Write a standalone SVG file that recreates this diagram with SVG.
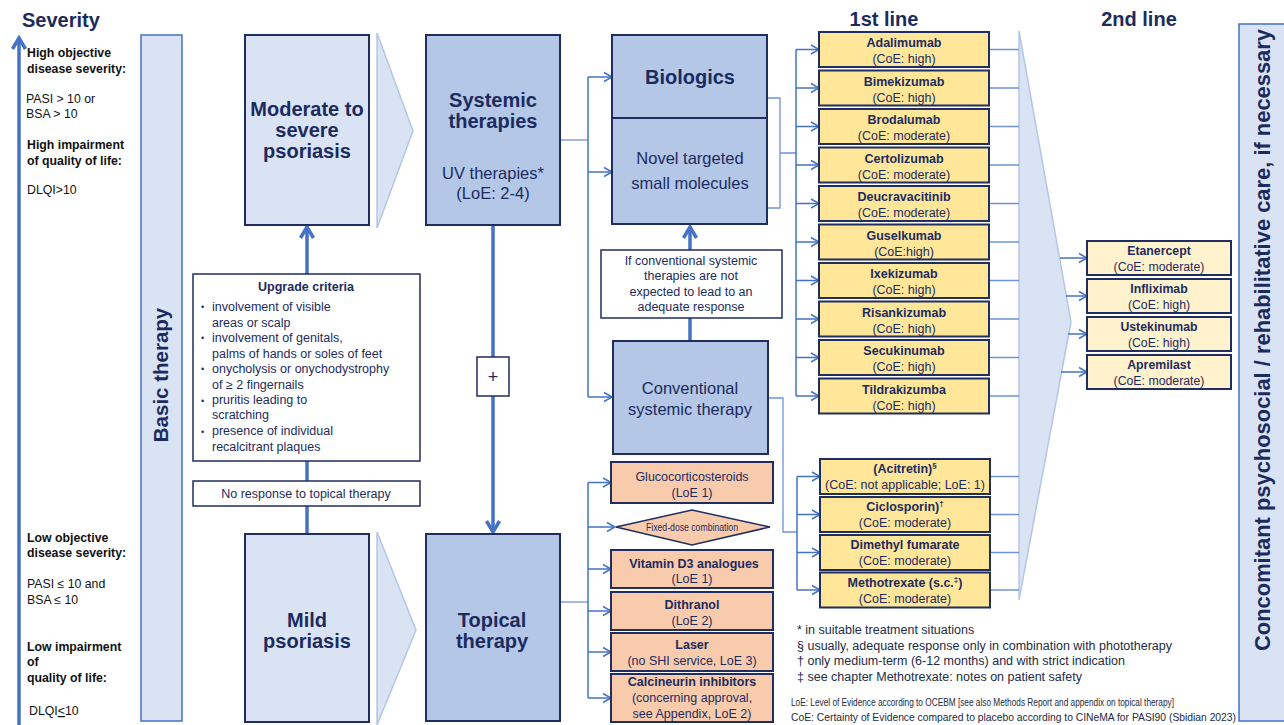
<svg xmlns="http://www.w3.org/2000/svg" width="1284" height="725" viewBox="0 0 1284 725">
<style>
text{font-family:"Liberation Sans",Arial,sans-serif;fill:#1C2B5E}
.b{font-weight:bold}
.left{fill:#111;font-size:12.3px}
.col{fill:#DAE3F3;stroke:#4472C4;stroke-width:1.5}
.lt{fill:#DAE3F3;stroke:#1F2D5F;stroke-width:2}
.md{fill:#B4C7E7;stroke:#1F2D5F;stroke-width:2}
.wh{fill:#fff;stroke:#1F2D5F;stroke-width:1.5}
.y1{fill:#FFE699;stroke:#1F2D5F;stroke-width:2}
.y2{fill:#FFF2CC;stroke:#1F2D5F;stroke-width:2}
.or{fill:#F8CBAD;stroke:#1F2D5F;stroke-width:2}
.chev{fill:#DAE3F3;stroke:#B4C7E7;stroke-width:1.5}
.ln{fill:none;stroke:#4472C4;stroke-width:1.5}
.lnl{fill:none;stroke:#6F93D6;stroke-width:1.3}
.thick{fill:none;stroke:#4472C4;stroke-width:3.5}
.t13{font-size:12.5px}
.big{font-size:20px;font-weight:bold}
.reg{font-size:16.5px}
.fn{font-size:12.5px;fill:#222A44}
</style>
<defs>
<marker id="arr" markerUnits="userSpaceOnUse" markerWidth="12" markerHeight="12" refX="10" refY="6" orient="auto">
<path d="M2,1.5 L10,6 L2,10.5" fill="none" stroke="#4472C4" stroke-width="1.5"/>
</marker>
<marker id="arrT" markerUnits="userSpaceOnUse" markerWidth="16" markerHeight="16" refX="13" refY="8" orient="auto">
<path d="M2,1.5 L13,8 L2,14.5" fill="none" stroke="#4472C4" stroke-width="3.5"/>
</marker>
</defs>

<!-- Severity axis -->
<g id="severity">
<text x="22" y="27" class="big" style="font-size:20px">Severity</text>
<line x1="19" y1="725" x2="19" y2="38" class="thick" marker-end="url(#arrT)"/>
<text class="left b" x="27" y="57">High objective</text>
<text class="left b" x="27" y="73">disease severity:</text>
<text class="left" x="26" y="103">PASI &gt; 10 or</text>
<text class="left" x="26" y="118">BSA &gt; 10</text>
<text class="left b" x="27" y="149">High impairment</text>
<text class="left b" x="27" y="165">of quality of life:</text>
<text class="left" x="27" y="194">DLQI&gt;10</text>
<text class="left b" x="27" y="542">Low objective</text>
<text class="left b" x="27" y="557">disease severity:</text>
<text class="left" x="27" y="588">PASI ≤ 10 and</text>
<text class="left" x="27" y="604">BSA ≤ 10</text>
<text class="left b" x="27" y="651">Low impairment</text>
<text class="left b" x="27" y="666">of</text>
<text class="left b" x="27" y="682">quality of life:</text>
<text class="left" x="29" y="715">DLQI<tspan text-decoration="underline">&lt;</tspan>10</text>
</g>

<g id="basic-therapy">
<rect x="141" y="35" width="41" height="686" class="col"/>
<text transform="translate(168,375) rotate(-90)" text-anchor="middle" class="big" style="font-size:20.5px">Basic therapy</text>
</g>

<g id="concomitant">
<rect x="1239" y="24" width="50" height="697" class="col"/>
<text transform="translate(1270,340) rotate(-90)" text-anchor="middle" class="big" textLength="622" lengthAdjust="spacingAndGlyphs" style="font-size:21.5px">Concomitant psychosocial / rehabilitative care, if necessary</text>
</g>

<!-- chevrons -->
<g id="chevrons">
<polygon points="377,33 413,131 377,228" class="chev"/>
<polygon points="377,532 416,630 377,725" class="chev"/>
<polygon points="1019,31 1071,322 1019,600" class="chev"/>
</g>

<!-- connectors -->
<g id="connectors">
<line x1="307" y1="534" x2="307" y2="227" class="thick" marker-end="url(#arrT)"/>
<line x1="493" y1="225" x2="493" y2="532" class="thick" marker-end="url(#arrT)"/>
<line x1="690" y1="341" x2="690" y2="227" class="thick" marker-end="url(#arrT)"/>

<path d="M560,140 H588" class="lnl"/>
<path d="M588,77 V397" class="ln"/>
<line x1="588" y1="77" x2="612" y2="77" class="ln" marker-end="url(#arr)"/>
<line x1="588" y1="172" x2="612" y2="172" class="ln" marker-end="url(#arr)"/>
<line x1="588" y1="397" x2="612" y2="397" class="ln" marker-end="url(#arr)"/>

<path d="M767,98 H780 V208 H767 M780,153 H796" class="lnl"/>
<path d="M796,49.5 V396" class="ln"/>
<line x1="796" y1="49.5" x2="819" y2="49.5" class="ln" marker-end="url(#arr)"/>
<line x1="796" y1="88" x2="819" y2="88" class="ln" marker-end="url(#arr)"/>
<line x1="796" y1="126.5" x2="819" y2="126.5" class="ln" marker-end="url(#arr)"/>
<line x1="796" y1="165" x2="819" y2="165" class="ln" marker-end="url(#arr)"/>
<line x1="796" y1="203.5" x2="819" y2="203.5" class="ln" marker-end="url(#arr)"/>
<line x1="796" y1="242" x2="819" y2="242" class="ln" marker-end="url(#arr)"/>
<line x1="796" y1="280.5" x2="819" y2="280.5" class="ln" marker-end="url(#arr)"/>
<line x1="796" y1="319" x2="819" y2="319" class="ln" marker-end="url(#arr)"/>
<line x1="796" y1="357.5" x2="819" y2="357.5" class="ln" marker-end="url(#arr)"/>
<line x1="796" y1="396" x2="819" y2="396" class="ln" marker-end="url(#arr)"/>

<path d="M989,49.5 H1019 M989,88 H1019 M989,126.5 H1019 M989,165 H1019 M989,203.5 H1019 M989,242 H1019 M989,280.5 H1019 M989,319 H1019 M989,357.5 H1019 M989,396 H1019" class="lnl"/>
<path d="M990,476.5 H1019 M990,514.5 H1019 M990,552.5 H1019 M990,590 H1019" class="lnl"/>

<path d="M768,398 H783 V532 H797" class="lnl"/>
<path d="M797,476.5 V590" class="ln"/>
<line x1="797" y1="476.5" x2="820" y2="476.5" class="ln" marker-end="url(#arr)"/>
<line x1="797" y1="514.5" x2="820" y2="514.5" class="ln" marker-end="url(#arr)"/>
<line x1="797" y1="552.5" x2="820" y2="552.5" class="ln" marker-end="url(#arr)"/>
<line x1="797" y1="590" x2="820" y2="590" class="ln" marker-end="url(#arr)"/>

<line x1="1060" y1="258" x2="1087" y2="258" class="ln" marker-end="url(#arr)"/>
<line x1="1066" y1="296" x2="1087" y2="296" class="ln" marker-end="url(#arr)"/>
<line x1="1068" y1="334" x2="1087" y2="334" class="ln" marker-end="url(#arr)"/>
<line x1="1061" y1="372" x2="1087" y2="372" class="ln" marker-end="url(#arr)"/>

<path d="M560,602 H588" class="lnl"/>
<path d="M588,482.5 V698" class="ln"/>
<line x1="588" y1="482.5" x2="611" y2="482.5" class="ln" marker-end="url(#arr)"/>
<line x1="588" y1="527" x2="615" y2="527" class="ln" marker-end="url(#arr)"/>
<line x1="588" y1="569" x2="611" y2="569" class="ln" marker-end="url(#arr)"/>
<line x1="588" y1="611" x2="611" y2="611" class="ln" marker-end="url(#arr)"/>
<line x1="588" y1="652" x2="611" y2="652" class="ln" marker-end="url(#arr)"/>
<line x1="588" y1="698" x2="611" y2="698" class="ln" marker-end="url(#arr)"/>
</g>

<!-- main nodes -->
<g id="moderate-severe">
<rect x="245" y="35" width="124" height="190" class="lt"/>
<text x="307" text-anchor="middle" class="big"><tspan x="307" y="116">Moderate to</tspan><tspan x="307" y="137">severe</tspan><tspan x="307" y="158">psoriasis</tspan></text>
</g>
<g id="mild">
<rect x="245" y="534" width="124" height="188" class="lt"/>
<text text-anchor="middle" class="big"><tspan x="307" y="627">Mild</tspan><tspan x="307" y="648">psoriasis</tspan></text>
</g>
<g id="systemic">
<rect x="426" y="35" width="134" height="190" class="md"/>
<text text-anchor="middle" class="big"><tspan x="493" y="107">Systemic</tspan><tspan x="493" y="128">therapies</tspan></text>
<text text-anchor="middle" class="reg"><tspan x="493" y="179">UV therapies*</tspan><tspan x="493" y="199">(LoE: 2-4)</tspan></text>
</g>
<g id="topical">
<rect x="426" y="534" width="134" height="187" class="md"/>
<text text-anchor="middle" class="big"><tspan x="492" y="627">Topical</tspan><tspan x="492" y="648">therapy</tspan></text>
</g>
<g id="upgrade-criteria">
<rect x="193" y="274" width="227" height="187" class="wh"/>
<text x="306" y="291" text-anchor="middle" class="b t13">Upgrade criteria</text>
<g class="t13">
<text x="201" y="310" style="font-size:9px">•</text>
<text x="201" y="341" style="font-size:9px">•</text>
<text x="201" y="372" style="font-size:9px">•</text>
<text x="201" y="404" style="font-size:9px">•</text>
<text x="201" y="435" style="font-size:9px">•</text>
<text x="212" y="311">involvement of visible</text>
<text x="212" y="327">areas or scalp</text>
<text x="212" y="342">involvement of genitals,</text>
<text x="212" y="358">palms of hands or soles of feet</text>
<text x="212" y="373">onycholysis or onychodystrophy</text>
<text x="212" y="389">of ≥ 2 fingernails</text>
<text x="212" y="404">pruritis leading to</text>
<text x="212" y="419">scratching</text>
<text x="212" y="435">presence of individual</text>
<text x="212" y="451">recalcitrant plaques</text>
</g>
</g>
<g id="no-response">
<rect x="193" y="481" width="227" height="25" class="wh"/>
<text x="306" y="498" text-anchor="middle" class="t13">No response to topical therapy</text>
</g>
<g id="plus">
<rect x="477" y="357" width="32" height="39" class="wh"/>
<text x="493" y="383" text-anchor="middle" style="font-size:18px">+</text>
</g>
<g id="biologics">
<rect x="612" y="35" width="155" height="83" class="md"/>
<text x="690" y="84" text-anchor="middle" class="big">Biologics</text>
</g>
<g id="novel-targeted">
<rect x="612" y="118" width="155" height="106" class="md"/>
<text text-anchor="middle" class="reg"><tspan x="690" y="164">Novel targeted</tspan><tspan x="690" y="189">small molecules</tspan></text>
</g>
<g id="if-conventional">
<rect x="601" y="250" width="181" height="68" class="wh"/>
<text text-anchor="middle" class="t13"><tspan x="691" y="265">If conventional systemic</tspan><tspan x="691" y="280">therapies are not</tspan><tspan x="691" y="296">expected to lead to an</tspan><tspan x="691" y="311">adequate response</tspan></text>
</g>
<g id="conventional">
<rect x="613" y="341" width="155" height="113" class="md"/>
<text text-anchor="middle" class="reg"><tspan x="690" y="394">Conventional</tspan><tspan x="690" y="415">systemic therapy</tspan></text>
</g>

<!-- topical options -->
<g id="glucocorticosteroids">
<rect x="611" y="462" width="162" height="41" class="or"/>
<text text-anchor="middle" class="t13"><tspan x="692" y="481">Glucocorticosteroids</tspan><tspan x="692" y="497">(LoE 1)</tspan></text>
</g>
<g id="fixed-dose">
<polygon points="616,527 692,510 770,527 692,545" class="or" style="stroke-width:1.5"/>
<text x="692" y="531" text-anchor="middle" style="font-size:10px" textLength="92" lengthAdjust="spacingAndGlyphs">Fixed-dose combination</text>
</g>
<g id="vitamin-d3">
<rect x="611" y="550" width="162" height="38" class="or"/>
<text text-anchor="middle" class="t13"><tspan x="694" y="568" font-weight="bold">Vitamin D3 analogues</tspan><tspan x="692" y="583">(LoE 1)</tspan></text>
</g>
<g id="dithranol">
<rect x="611" y="592" width="162" height="38" class="or"/>
<text text-anchor="middle" class="t13"><tspan x="692" y="609" font-weight="bold">Dithranol</tspan><tspan x="692" y="625">(LoE 2)</tspan></text>
</g>
<g id="laser">
<rect x="611" y="633" width="162" height="38" class="or"/>
<text text-anchor="middle" class="t13"><tspan x="692" y="649" font-weight="bold">Laser</tspan><tspan x="692" y="665">(no SHI service, LoE 3)</tspan></text>
</g>
<g id="calcineurin">
<rect x="611" y="674" width="162" height="48" class="or"/>
<text text-anchor="middle" class="t13"><tspan x="692" y="686" font-weight="bold">Calcineurin inhibitors</tspan><tspan x="692" y="702">(concerning approval,</tspan><tspan x="692" y="718">see Appendix, LoE 2)</tspan></text>
</g>

<!-- column headings -->
<text x="884" y="26" text-anchor="middle" class="big">1st line</text>
<text x="1139" y="26" text-anchor="middle" class="big">2nd line</text>

<!-- 1st line biologics -->
<g id="adalimumab"><rect x="819" y="32" width="170" height="35" class="y1"/><text text-anchor="middle" class="t13"><tspan x="904" y="47" font-weight="bold">Adalimumab</tspan><tspan x="904" y="63">(CoE: high)</tspan></text></g>
<g id="bimekizumab"><rect x="819" y="70.5" width="170" height="35" class="y1"/><text text-anchor="middle" class="t13"><tspan x="904" y="85.5" font-weight="bold">Bimekizumab</tspan><tspan x="904" y="101.5">(CoE: high)</tspan></text></g>
<g id="brodalumab"><rect x="819" y="109" width="170" height="35" class="y1"/><text text-anchor="middle" class="t13"><tspan x="904" y="124" font-weight="bold">Brodalumab</tspan><tspan x="904" y="140">(CoE: moderate)</tspan></text></g>
<g id="certolizumab"><rect x="819" y="147.5" width="170" height="35" class="y1"/><text text-anchor="middle" class="t13"><tspan x="904" y="162.5" font-weight="bold">Certolizumab</tspan><tspan x="904" y="178.5">(CoE: moderate)</tspan></text></g>
<g id="deucravacitinib"><rect x="819" y="186" width="170" height="35" class="y1"/><text text-anchor="middle" class="t13"><tspan x="904" y="201" font-weight="bold">Deucravacitinib</tspan><tspan x="904" y="217">(CoE: moderate)</tspan></text></g>
<g id="guselkumab"><rect x="819" y="224.5" width="170" height="35" class="y1"/><text text-anchor="middle" class="t13"><tspan x="904" y="239.5" font-weight="bold">Guselkumab</tspan><tspan x="904" y="255.5">(CoE:high)</tspan></text></g>
<g id="ixekizumab"><rect x="819" y="263" width="170" height="35" class="y1"/><text text-anchor="middle" class="t13"><tspan x="904" y="278" font-weight="bold">Ixekizumab</tspan><tspan x="904" y="294">(CoE: high)</tspan></text></g>
<g id="risankizumab"><rect x="819" y="301.5" width="170" height="35" class="y1"/><text text-anchor="middle" class="t13"><tspan x="904" y="316.5" font-weight="bold">Risankizumab</tspan><tspan x="904" y="332.5">(CoE: high)</tspan></text></g>
<g id="secukinumab"><rect x="819" y="340" width="170" height="35" class="y1"/><text text-anchor="middle" class="t13"><tspan x="904" y="355" font-weight="bold">Secukinumab</tspan><tspan x="904" y="371">(CoE: high)</tspan></text></g>
<g id="tildrakizumba"><rect x="819" y="378.5" width="170" height="35" class="y1"/><text text-anchor="middle" class="t13"><tspan x="904" y="393.5" font-weight="bold">Tildrakizumba</tspan><tspan x="904" y="409.5">(CoE: high)</tspan></text></g>

<!-- 1st line conventional -->
<g id="acitretin"><rect x="820" y="459" width="170" height="35" class="y1"/><text text-anchor="middle" class="t13"><tspan x="905" y="473" font-weight="bold">(Acitretin)<tspan dy="-5" style="font-size:8px">§</tspan></tspan><tspan x="905" y="489" textLength="160" lengthAdjust="spacingAndGlyphs">(CoE: not applicable; LoE: 1)</tspan></text></g>
<g id="ciclosporin"><rect x="820" y="497" width="170" height="35" class="y1"/><text text-anchor="middle" class="t13"><tspan x="905" y="511" font-weight="bold">Ciclosporin)<tspan dy="-5" style="font-size:8px">†</tspan></tspan><tspan x="905" y="527">(CoE: moderate)</tspan></text></g>
<g id="dimethyl-fumarate"><rect x="820" y="535" width="170" height="35" class="y1"/><text text-anchor="middle" class="t13"><tspan x="905" y="549" font-weight="bold">Dimethyl fumarate</tspan><tspan x="905" y="565">(CoE: moderate)</tspan></text></g>
<g id="methotrexate"><rect x="820" y="572.5" width="170" height="35" class="y1"/><text text-anchor="middle" class="t13"><tspan x="905" y="586.5" font-weight="bold">Methotrexate (s.c.<tspan dy="-5" style="font-size:8px">‡</tspan><tspan dy="5">)</tspan></tspan><tspan x="905" y="602.5">(CoE: moderate)</tspan></text></g>

<!-- 2nd line -->
<g id="etanercept"><rect x="1087" y="241" width="144" height="34" class="y2"/><text text-anchor="middle" class="t13" style="font-size:12.3px"><tspan x="1159" y="255" font-weight="bold">Etanercept</tspan><tspan x="1159" y="271">(CoE: moderate)</tspan></text></g>
<g id="infliximab"><rect x="1087" y="279" width="144" height="34" class="y2"/><text text-anchor="middle" class="t13" style="font-size:12.3px"><tspan x="1159" y="293" font-weight="bold">Infliximab</tspan><tspan x="1159" y="309">(CoE: high)</tspan></text></g>
<g id="ustekinumab"><rect x="1087" y="317" width="144" height="34" class="y2"/><text text-anchor="middle" class="t13" style="font-size:12.3px"><tspan x="1159" y="331" font-weight="bold">Ustekinumab</tspan><tspan x="1159" y="347">(CoE: high)</tspan></text></g>
<g id="apremilast"><rect x="1087" y="355" width="144" height="34" class="y2"/><text text-anchor="middle" class="t13" style="font-size:12.3px"><tspan x="1159" y="369" font-weight="bold">Apremilast</tspan><tspan x="1159" y="385">(CoE: moderate)</tspan></text></g>

<!-- footnotes -->
<g id="footnotes">
<text class="fn" x="797" y="634">* in suitable treatment situations</text>
<text class="fn" x="797" y="650">§ usually, adequate response only in combination with phototherapy</text>
<text class="fn" x="797" y="665">† only medium-term (6-12 months) and with strict indication</text>
<text class="fn" x="797" y="681">‡ see chapter Methotrexate: notes on patient safety</text>
<text x="791" y="706" style="font-size:10px;fill:#222A44" textLength="383" lengthAdjust="spacingAndGlyphs">LoE: Level of Evidence according to OCEBM [see also Methods Report  and appendix on topical therapy]</text>
<text x="791" y="721" style="font-size:11px;fill:#222A44" textLength="445" lengthAdjust="spacingAndGlyphs">CoE: Certainty of Evidence compared to placebo according to CINeMA for PASI90 (Sbidian 2023)</text>
</g>
</svg>
